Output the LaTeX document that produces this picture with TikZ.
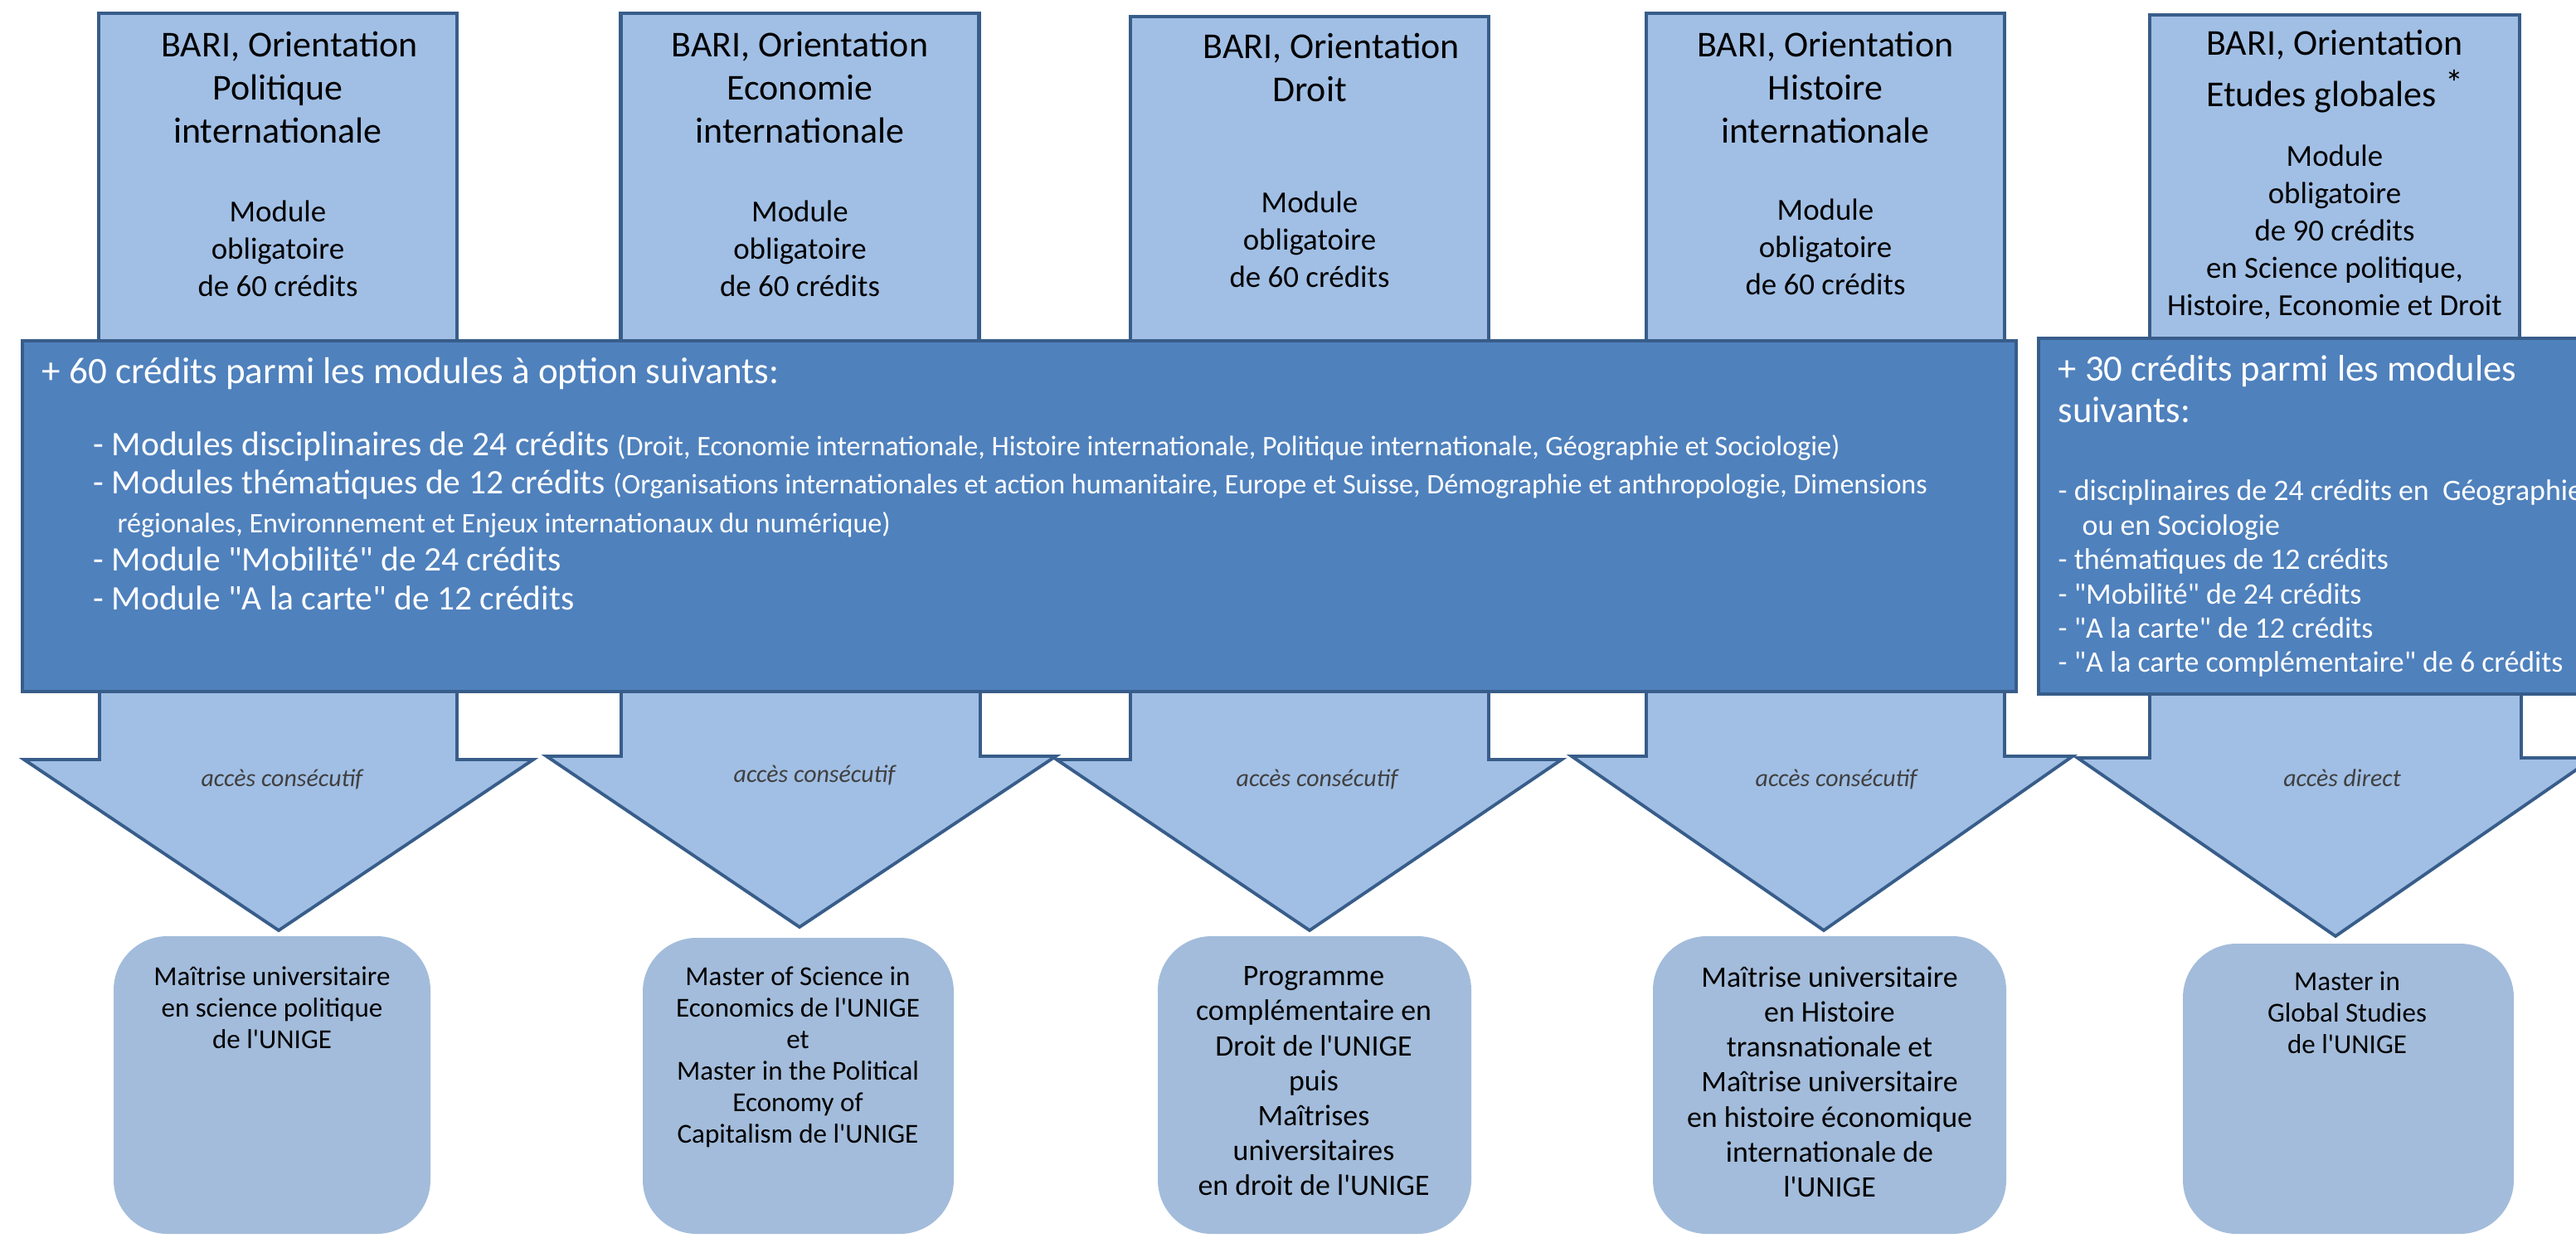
\documentclass[tikz,border=0pt]{standalone}
\usepackage{fontspec}
\setmainfont{Carlito}[Ligatures=TeXOff]
\usepackage{xcolor}
\usepackage{tikz}

\definecolor{lightblue}{RGB}{161,191,229}
\definecolor{midblue}{RGB}{79,129,189}
\definecolor{edgeblue}{RGB}{56,93,138}
\definecolor{greyblue}{RGB}{163,188,219}
\definecolor{labelgrey}{RGB}{64,64,64}

\begin{document}
\begin{tikzpicture}[
        orient/.style={rectangle, draw=edgeblue, fill=lightblue, line width=1.2pt,
            minimum width=4.32cm, minimum height=4.04cm, inner sep=0pt},
        orienttitle/.style={align=center, inner sep=0pt,
            font=\fontsize{12.5}{14.8}\selectfont},
        oblig/.style={align=center, inner sep=0pt,
            font=\fontsize{10.5}{12.8}\selectfont},
        optbox/.style={rectangle, draw=edgeblue, fill=midblue, line width=1.2pt,
            inner sep=0pt},
        opttext/.style={align=left, inner sep=0pt, text=white},
        blockarrow/.style={draw=edgeblue, fill=lightblue, line width=1.1pt},
        accesslabel/.style={inner sep=0pt, text=labelgrey,
            font=\fontsize{8.5}{10}\selectfont\itshape},
        masterbox/.style={rectangle, rounded corners=0.65cm, fill=greyblue,
            inner sep=0pt},
        mastertext/.style={align=center, inner sep=0pt, anchor=north,
            font=\fontsize{9.4}{10.8}\selectfont},
        masterbig/.style={mastertext, font=\fontsize{10.2}{12}\selectfont}]
        \useasboundingbox (0,0) rectangle (31.06,-14.92);
        \clip (0,0) rectangle (31.06,-14.92);

        % orientations
        \node[orient] (polBox) at (3.35,-2.18) {};
        \node[orient] (ecoBox) at (9.645,-2.18) {};
        \node[orient] (droitBox) at (15.79,-2.22) {};
        \node[orient] (histBox) at (22.01,-2.18) {};
        \node[orient, minimum width=4.46cm] (globBox) at (28.15,-2.20) {};

        \node[orienttitle] (polTitle) at (3.35,-1.05) {\hspace*{8pt}BARI, Orientation\\Politique\\internationale};
        \node[orienttitle] (ecoTitle) at (9.645,-1.05) {BARI, Orientation\\Economie\\internationale};
        \node[orienttitle] (droitTitle) at (15.79,-0.81) {\hspace*{15pt}BARI, Orientation\\Droit};
        \node[orienttitle] (histTitle) at (22.01,-1.05) {BARI, Orientation\\Histoire\\internationale};
        \node[orienttitle] (globTitle) at (28.15,-0.86) {BARI, Orientation\\[3pt]Etudes globales \raisebox{0.3em}{*}};

        \node[oblig] (polMod) at (3.35,-3.00) {Module\\obligatoire\\de 60 crédits};
        \node[oblig] (ecoMod) at (9.645,-3.00) {Module\\obligatoire\\de 60 crédits};
        \node[oblig] (droitMod) at (15.79,-2.89) {Module\\obligatoire\\de 60 crédits};
        \node[oblig] (histMod) at (22.01,-2.98) {Module\\obligatoire\\de 60 crédits};
        \node[oblig] (globMod) at (28.15,-2.80) {Module\\obligatoire\\de 90 crédits\\en Science politique,\\Histoire, Economie et Droit};

        % block arrows
        \draw[blockarrow] (1.20,-8.20) -- (1.20,-9.16) -- (0.29,-9.16) -- (3.36,-11.22)
            -- (6.43,-9.16) -- (5.51,-9.16) -- (5.51,-8.20) -- cycle;
        \draw[blockarrow] (7.49,-8.20) -- (7.49,-9.12) -- (6.59,-9.12) -- (9.64,-11.18)
            -- (12.73,-9.12) -- (11.82,-9.12) -- (11.82,-8.20) -- cycle;
        \draw[blockarrow] (13.63,-8.20) -- (13.63,-9.16) -- (12.74,-9.16) -- (15.79,-11.22)
            -- (18.83,-9.16) -- (17.95,-9.16) -- (17.95,-8.20) -- cycle;
        \draw[blockarrow] (19.85,-8.20) -- (19.85,-9.12) -- (18.95,-9.12) -- (21.99,-11.22)
            -- (24.99,-9.12) -- (24.17,-9.12) -- (24.17,-8.20) -- cycle;
        \draw[blockarrow] (25.92,-8.20) -- (25.92,-9.14) -- (25.05,-9.14) -- (28.16,-11.29)
            -- (31.27,-9.14) -- (30.40,-9.14) -- (30.40,-8.20) -- cycle;

        \node[accesslabel] (polAcc) at (3.40,-9.40) {accès consécutif};
        \node[accesslabel] (ecoAcc) at (9.82,-9.35) {accès consécutif};
        \node[accesslabel] (droitAcc) at (15.88,-9.40) {accès consécutif};
        \node[accesslabel] (histAcc) at (22.14,-9.40) {accès consécutif};
        \node[accesslabel] (globAcc) at (28.24,-9.38) {accès direct};

        % modules a option
        \node[optbox, minimum width=24.04cm, minimum height=4.23cm] (optLeft) at (12.29,-6.225) {};
        \node[optbox, minimum width=8cm, minimum height=4.29cm] (optRight) at (28.58,-6.225) {};

        \node[opttext, anchor=west, font=\fontsize{12.8}{15}\selectfont] (optLeftHead) at (0.50,-4.50)
            {+ 60 crédits parmi les modules à option suivants:};
        \node[opttext, anchor=north west, font=\fontsize{11.8}{13.2}\selectfont] (optLeftList) at (1.12,-5.20)
            {- Modules disciplinaires de 24 crédits {\fontsize{9.7}{13.2}\selectfont (Droit, Economie internationale, Histoire internationale, Politique internationale, Géographie et Sociologie)}\\
            - Modules thématiques de 12 crédits {\fontsize{9.7}{13.2}\selectfont (Organisations internationales et action humanitaire, Europe et Suisse, Démographie et anthropologie, Dimensions}\\
            \hspace*{0.29cm}{\fontsize{9.7}{13.2}\selectfont régionales, Environnement et Enjeux internationaux du numérique)}\\
            - Module "Mobilité" de 24 crédits\\
            - Module "A la carte" de 12 crédits};

        \node[opttext, anchor=north west, font=\fontsize{12.7}{14.2}\selectfont] (optRightHead) at (24.81,-4.28)
            {+ 30 crédits parmi les modules\\suivants:};
        \node[opttext, anchor=north west, font=\fontsize{10.2}{11.8}\selectfont] (optRightList) at (24.81,-5.78)
            {- disciplinaires de 24 crédits en \ Géographie\\
            \hspace*{0.29cm}ou en Sociologie\\
            - thématiques de 12 crédits\\
            - "Mobilité" de 24 crédits\\
            - "A la carte" de 12 crédits\\
            - "A la carte complémentaire" de 6 crédits};

        % masters
        \node[masterbox, minimum width=3.82cm, minimum height=3.59cm] (msPol) at (3.28,-13.085) {};
        \node[masterbox, minimum width=3.75cm, minimum height=3.57cm] (msEco) at (9.625,-13.095) {};
        \node[masterbox, minimum width=3.78cm, minimum height=3.59cm] (msDroit) at (15.85,-13.085) {};
        \node[masterbox, minimum width=4.26cm, minimum height=3.59cm] (msHist) at (22.06,-13.085) {};
        \node[masterbox, minimum width=3.99cm, minimum height=3.50cm] (msGlob) at (28.315,-13.13) {};

        \node[mastertext] (msPolText) at (3.28,-11.65)
            {Maîtrise universitaire\\en science politique\\de l'UNIGE};
        \node[mastertext] (msEcoText) at (9.62,-11.65)
            {Master of Science in\\Economics de l'UNIGE\\et\\Master in the Political\\Economy of\\Capitalism de l'UNIGE};
        \node[masterbig] (msDroitText) at (15.84,-11.65)
            {Programme\\complémentaire en\\Droit de l'UNIGE\\puis\\Maîtrises\\universitaires\\en droit de l'UNIGE};
        \node[masterbig] (msHistText) at (22.06,-11.65)
            {Maîtrise universitaire\\en Histoire\\transnationale et\\Maîtrise universitaire\\en histoire économique\\internationale de\\l'UNIGE};
        \node[mastertext] (msGlobText) at (28.30,-11.71)
            {Master in\\Global Studies\\de l'UNIGE};
    \end{tikzpicture}
\end{document}
